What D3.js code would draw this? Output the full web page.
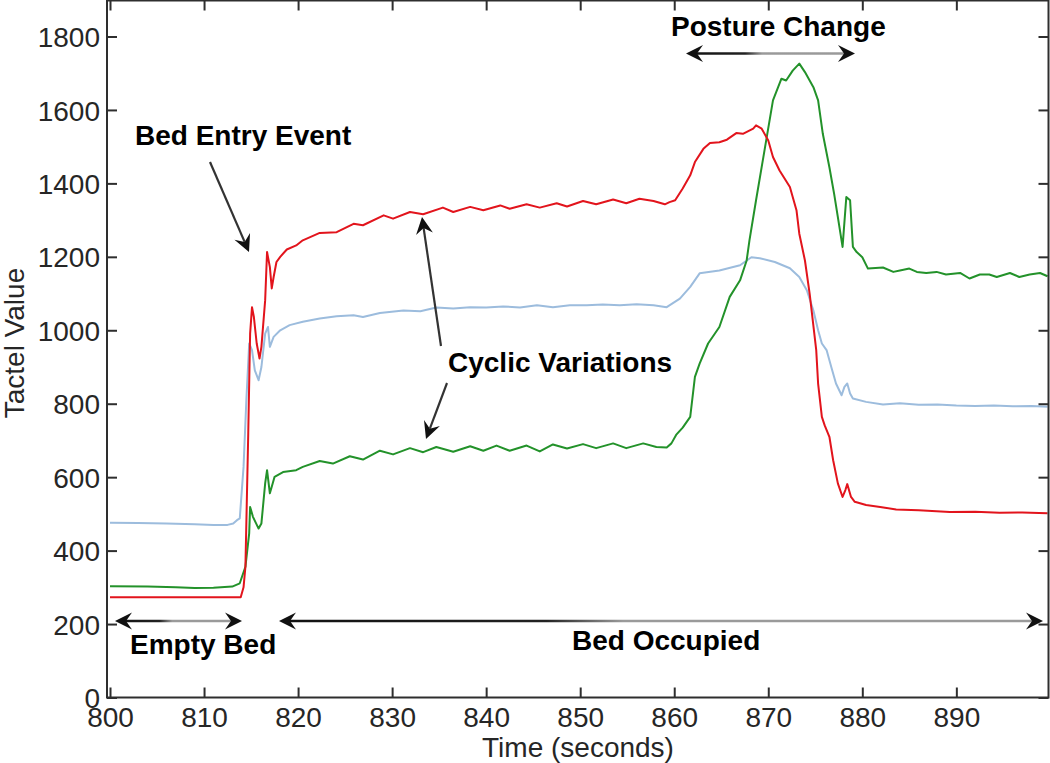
<!DOCTYPE html>
<html><head><meta charset="utf-8">
<script src="https://cdn.jsdelivr.net/npm/d3@7"></script>
<style>
body{margin:0;background:#fff}
svg{display:block}
text{font-family:"Liberation Sans",Arial,Helvetica,sans-serif}
</style>
</head><body>
<svg id="chart" width="1050" height="763"></svg>
<script>
// ---------------- data ----------------
const redTime  = [800,805,810,813.9,814.2,814.4,814.7,814.9,815.1,815.3,815.6,815.9,816.1,816.5,816.7,817.0,817.2,817.4,817.7,818.1,818.8,819.8,820.5,822.3,824.1,825.9,826.9,829.1,830.1,831.9,833.3,835.4,836.5,838.3,839.7,841.5,842.5,844.3,845.7,847.5,848.6,850.3,851.7,853.5,854.9,856.3,857.8,859.0,859.5,860.1,860.9,861.7,862.2,863.1,863.8,864.8,865.6,866.6,867.3,868.4,868.7,869.3,870.0,870.5,871.2,872.3,872.6,873.0,873.3,873.9,874.4,875.1,875.3,875.7,876.0,876.5,876.9,877.4,877.9,878.2,878.4,878.8,879.2,880.4,881.9,883.6,886.0,889.3,892.0,894.6,897.0,899.7];
const redValue = [273,273,273,273,300,356,719,991,1063,1036,964,923,955,1082,1213,1172,1114,1145,1186,1200,1220,1231,1245,1265,1267,1290,1286,1313,1304,1322,1316,1334,1322,1336,1327,1340,1331,1343,1334,1346,1337,1352,1343,1356,1346,1358,1352,1343,1349,1354,1386,1422,1458,1494,1510,1512,1519,1537,1535,1549,1558,1549,1517,1472,1435,1390,1363,1327,1263,1190,1100,946,855,764,741,710,646,583,546,565,581,546,533,524,519,512,510,505,506,503,504,502];

const blueTime  = [800,803,806,809,811,812.5,813.1,813.5,813.8,814.2,814.5,814.8,815.1,815.4,815.8,816.1,816.5,816.8,817.0,817.4,818.1,819.1,820.5,822.3,824.1,825.9,826.9,828.7,831.2,833.0,834.7,836.5,838.3,840.0,841.8,843.6,845.4,847.1,848.9,850.7,852.4,854.2,856.0,857.8,859.2,860.6,861.7,862.7,864.8,867.0,868.2,869.1,870.7,872.3,873.3,874.1,874.8,875.3,875.7,876.2,876.7,877.2,877.8,878.1,878.4,878.7,879.0,880.4,882.2,884.0,886.0,888.0,890.0,892.0,894.0,896.0,898.0,899.7];
const blueValue = [476,475,474,472,470,470,474,483,488,628,810,964,946,891,864,900,991,1009,955,982,1000,1014,1023,1032,1038,1041,1036,1047,1054,1052,1062,1059,1063,1062,1065,1062,1068,1063,1068,1068,1070,1068,1071,1068,1063,1086,1118,1155,1163,1177,1199,1196,1186,1169,1145,1109,1054,1000,964,946,900,855,823,846,855,828,814,805,798,801,797,798,795,794,795,793,794,792];

const greenTime  = [800,804,807,809,811,813,813.8,814.4,814.8,814.9,815.2,815.8,816.1,816.5,816.7,817.0,817.2,817.5,818.4,819.8,820.5,822.3,823.7,825.5,826.9,828.7,830.1,831.9,833.3,834.7,836.5,838.3,839.7,841.1,842.5,844.3,845.7,847.1,848.6,850.3,851.7,853.5,854.9,856.7,858.1,859.2,859.7,860.2,860.9,861.7,862.2,862.7,863.6,864.8,865.9,867.0,867.7,868.0,868.7,869.6,870.5,871.4,871.9,872.6,873.3,873.9,874.8,875.3,875.8,876.5,877.0,877.4,877.9,878.3,878.7,879.0,879.4,880.0,880.6,882.2,883.3,884.0,885.0,885.8,886.8,887.9,888.9,890.4,891.4,892.5,893.5,894.3,895.7,896.7,897.8,898.9,899.7];
const greenValue = [303,302,300,298,299,302,311,356,447,519,492,460,474,583,619,556,574,601,614,619,628,644,637,657,648,672,662,679,668,682,669,684,672,686,672,686,670,689,678,690,679,692,679,692,682,681,692,715,735,764,873,909,964,1009,1091,1136,1190,1245,1354,1490,1626,1685,1680,1707,1726,1703,1662,1626,1535,1444,1372,1308,1227,1363,1354,1227,1213,1199,1168,1171,1159,1163,1168,1159,1156,1159,1152,1156,1141,1152,1152,1145,1156,1145,1152,1156,1147];

const xTickValues = [800,810,820,830,840,850,860,870,880,890];
const xTickLabels = ["800","810","820","830","840","850","860","870","880","890"];
const yTickValues = [0,200,400,600,800,1000,1200,1400,1600,1800];
const yTickLabels = ["0","200","400","600","800","1000","1200","1400","1600","1800"];

const seriesNames  = ["Red sensor","Blue sensor","Green sensor"];
const seriesColors = ["#e2141c","#9cbcdd","#23922a"];

// ---------------- layout ----------------
const svg = d3.select("#chart");
const L = 107, R = 1048.5, T = 0.5, B = 697.5;
const x = d3.scaleLinear().domain([799.68, 899.8]).range([L, R]);
const y = d3.scaleLinear().domain([0, 1898]).range([B, T]);

const series = [
  {name: seriesNames[1], color: seriesColors[1], t: blueTime,  v: blueValue},
  {name: seriesNames[2], color: seriesColors[2], t: greenTime, v: greenValue},
  {name: seriesNames[0], color: seriesColors[0], t: redTime,   v: redValue}
];

const line = d3.line().x(d => x(d[0])).y(d => y(d[1])).curve(d3.curveLinear);
const plot = svg.append("g");
series.forEach(s => {
  plot.append("path")
    .datum(s.t.map((t, i) => [t, s.v[i]]))
    .attr("d", line)
    .attr("fill", "none")
    .attr("stroke", s.color)
    .attr("stroke-width", 2)
    .attr("stroke-linejoin", "round");
});

// ---------------- axes ----------------
const axisColor = "#2e2e2e";
const tickLen = 10;
const ax = svg.append("g");
ax.append("rect").attr("x", L).attr("y", T).attr("width", R - L).attr("height", B - T)
  .attr("fill", "none").attr("stroke", axisColor).attr("stroke-width", 2);

const xb = svg.append("g").attr("transform", `translate(0,${B})`)
  .call(d3.axisBottom(x).tickValues(xTickValues).tickFormat((d, i) => xTickLabels[i]).tickSizeInner(-tickLen).tickSizeOuter(0));
const xt = svg.append("g").attr("transform", `translate(0,${T})`)
  .call(d3.axisTop(x).tickValues(xTickValues).tickFormat("").tickSizeInner(-tickLen).tickSizeOuter(0));
const yl = svg.append("g").attr("transform", `translate(${L},0)`)
  .call(d3.axisLeft(y).tickValues(yTickValues).tickFormat((d, i) => yTickLabels[i]).tickSizeInner(-tickLen).tickSizeOuter(0).tickPadding(7));
const yr = svg.append("g").attr("transform", `translate(${R},0)`)
  .call(d3.axisRight(y).tickValues(yTickValues).tickFormat("").tickSizeInner(-tickLen).tickSizeOuter(0));

[xb, xt, yl, yr].forEach(g => {
  g.select(".domain").remove();
  g.selectAll(".tick line").attr("stroke", axisColor).attr("stroke-width", 2);
  g.selectAll(".tick text").attr("fill", "#262626").attr("font-size", 28)
    .attr("font-family", '"Liberation Sans",Arial,Helvetica,sans-serif');
});
xb.selectAll(".tick text").attr("dy", null).attr("y", 29);
yl.selectAll(".tick text").attr("dy", "0.36em");

svg.append("text").attr("x", 578).attr("y", 757).attr("text-anchor", "middle")
  .attr("font-size", 28).attr("fill", "#262626").text("Time (seconds)");
svg.append("text").attr("transform", "translate(24,343) rotate(-90)").attr("text-anchor", "middle")
  .attr("font-size", 28).attr("fill", "#262626").text("Tactel Value");

// ---------------- annotations ----------------
const defs = svg.append("defs");
function head(g, x0, y0, x1, y1, color) {
  const a = Math.atan2(y1 - y0, x1 - x0) * 180 / Math.PI;
  g.append("path").attr("d", "M0,0 L-17,-8.5 L-11,0 L-17,8.5 Z")
    .attr("transform", `translate(${x1},${y1}) rotate(${a})`)
    .attr("fill", color);
}
function arrow(x0, y0, x1, y1, color) {
  const g = svg.append("g");
  const len = Math.hypot(x1 - x0, y1 - y0);
  const ux = (x1 - x0) / len, uy = (y1 - y0) / len;
  g.append("line").attr("x1", x0).attr("y1", y0).attr("x2", x1 - ux * 11).attr("y2", y1 - uy * 11)
    .attr("stroke", color).attr("stroke-width", 2.2);
  head(g, x0, y0, x1, y1, "#111");
}
let gid = 0;
function dblArrow(x0, x1, yy) {
  const id = "g" + (gid++);
  const gr = defs.append("linearGradient").attr("id", id).attr("gradientUnits", "userSpaceOnUse")
    .attr("x1", x0).attr("y1", yy).attr("x2", x1).attr("y2", yy);
  gr.append("stop").attr("offset", 0).attr("stop-color", "#111");
  gr.append("stop").attr("offset", 0.35).attr("stop-color", "#222");
  gr.append("stop").attr("offset", 0.45).attr("stop-color", "#9a9a9a");
  gr.append("stop").attr("offset", 1).attr("stop-color", "#9a9a9a");
  const g = svg.append("g");
  g.append("line").attr("x1", x0 + 11).attr("y1", yy).attr("x2", x1 - 11).attr("y2", yy)
    .attr("stroke", `url(#${id})`).attr("stroke-width", 2.6);
  head(g, x1, yy, x0, yy, "#111");
  head(g, x0, yy, x1, yy, "#111");
}

arrow(210, 162, 249, 252, "#333");
arrow(441, 346, 422, 217, "#333");
arrow(447, 383, 426, 439, "#333");
dblArrow(686, 855, 53.5);
dblArrow(115, 242, 621);
dblArrow(279, 1043, 621);

const notes = [
  {text: "Bed Entry Event",   x: 135, y: 145, anchor: "start"},
  {text: "Posture Change",    x: 671, y: 36,  anchor: "start"},
  {text: "Cyclic Variations", x: 448, y: 372, anchor: "start"},
  {text: "Empty Bed",         x: 130, y: 654, anchor: "start"},
  {text: "Bed Occupied",      x: 572, y: 650, anchor: "start"}
];
svg.append("g").selectAll("text").data(notes).join("text")
  .attr("x", d => d.x).attr("y", d => d.y).attr("text-anchor", d => d.anchor)
  .attr("font-size", 28).attr("font-weight", "bold").attr("fill", "#000")
  .text(d => d.text);
</script>
</body></html>
